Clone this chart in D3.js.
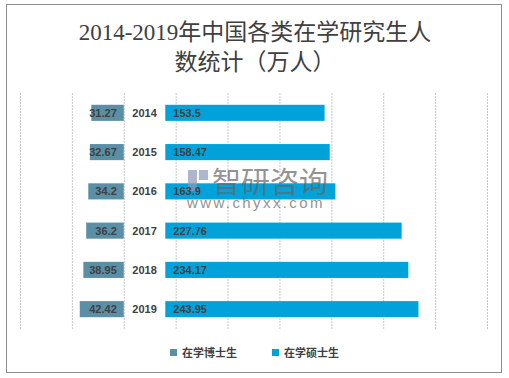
<!DOCTYPE html>
<meta charset="utf-8">
<script src="https://d3js.org/d3.v7.min.js"></script>
<style>
  body { margin: 0; background: #fff; }
  text { font-family: "Liberation Sans", "Noto Sans CJK SC", sans-serif; }
</style>
<div id="chart"></div>
<script>
// data
var years = ["2014", "2015", "2016", "2017", "2018", "2019"];
var doctor = [31.27, 32.67, 34.2, 36.2, 38.95, 42.42];
var master = [153.5, 158.47, 163.9, 227.76, 234.17, 243.95];
var seriesNames = ["在学博士生", "在学硕士生"];
var titleLines = ["2014-2019年中国各类在学研究生人", "数统计（万人）"];
var gap = 40; // space left for the year label between the two bars

var W = 509, H = 378;
var svg = d3.select("#chart").append("svg")
    .attr("width", W).attr("height", H);

// outer frame
svg.append("rect")
    .attr("x", 6.5).attr("y", 4.5)
    .attr("width", 495).attr("height", 368)
    .attr("fill", "#fff").attr("stroke", "#8c8c8c");

// title
svg.selectAll(".title")
  .data(titleLines)
  .enter().append("text")
    .attr("x", 255).attr("y", function (d, i) { return 40 + i * 30; })
    .attr("text-anchor", "middle")
    .style("font-family", "'Liberation Serif', 'Noto Sans CJK SC', serif")
    .style("font-size", "23px")
    .attr("fill", "#404040")
    .text(function (d) { return d; });

var x = d3.scaleLinear().domain([-100, 350]).range([20, 487]);
var y = d3.scaleBand().domain(years).range([93, 329]).paddingInner(0.59).paddingOuter(0.3);

// gridlines
svg.append("g")
  .selectAll("line")
  .data(d3.range(-100, 351, 50))
  .enter().append("line")
    .attr("x1", function (d) { return x(d) + 0.5; })
    .attr("x2", function (d) { return x(d) + 0.5; })
    .attr("y1", 93).attr("y2", 329)
    .attr("stroke", "#c8c8c8")
    .style("stroke-dasharray", "2,1");

var bh = y.bandwidth();

// doctor bars (to the left of zero)
svg.append("g")
  .selectAll("rect")
  .data(doctor)
  .enter().append("rect")
    .attr("x", function (d) { return x(-d); })
    .attr("y", function (d, i) { return y(years[i]); })
    .attr("width", function (d) { return x(0) - x(-d); })
    .attr("height", bh)
    .attr("fill", "#5a8fa6");

// master bars (after the gap)
svg.append("g")
  .selectAll("rect")
  .data(master)
  .enter().append("rect")
    .attr("x", x(gap))
    .attr("y", function (d, i) { return y(years[i]); })
    .attr("width", function (d) { return x(gap + d) - x(gap); })
    .attr("height", bh)
    .attr("fill", "#00a2da");

// watermark
var wm = svg.append("g").attr("opacity", 0.7);
wm.append("rect").attr("x", 188).attr("y", 170).attr("width", 9).attr("height", 21).attr("fill", "#8a9ab8");
wm.append("rect").attr("x", 199).attr("y", 170).attr("width", 9).attr("height", 10).attr("fill", "#8a9ab8");
wm.append("text").attr("x", 212).attr("y", 193)
    .style("font-size", "29px").attr("fill", "#666").text("智研咨询");
wm.append("text").attr("x", 187).attr("y", 208)
    .style("font-size", "15px").style("letter-spacing", "2.4px")
    .attr("fill", "#666").text("www.chyxx.com");

// labels
var lab = svg.append("g")
    .style("font-size", "11px").style("font-weight", "bold").attr("fill", "#404040");

lab.selectAll(".doc")
  .data(doctor)
  .enter().append("text")
    .attr("x", x(0) - 7)
    .attr("y", function (d, i) { return y(years[i]) + bh / 2 + 4; })
    .attr("text-anchor", "end")
    .text(function (d) { return d; });

lab.selectAll(".yr")
  .data(years)
  .enter().append("text")
    .attr("x", x(gap / 2))
    .attr("y", function (d) { return y(d) + bh / 2 + 4; })
    .attr("text-anchor", "middle")
    .text(function (d) { return d; });

lab.selectAll(".mas")
  .data(master)
  .enter().append("text")
    .attr("x", x(gap) + 8)
    .attr("y", function (d, i) { return y(years[i]) + bh / 2 + 4; })
    .text(function (d) { return d; });

// legend
var colors = ["#5a8fa6", "#00a2da"];
var lg = svg.append("g")
  .selectAll("g")
  .data(seriesNames)
  .enter().append("g")
    .attr("transform", function (d, i) { return "translate(170," + 349 + ")translate(" + (i * 102) + ",0)"; });
lg.append("rect").attr("width", 7).attr("height", 7)
    .attr("fill", function (d, i) { return colors[i]; });
lg.append("text").attr("x", 12).attr("y", 8)
    .style("font-size", "11px").style("font-weight", "bold").attr("fill", "#404040")
    .text(function (d) { return d; });
</script>
